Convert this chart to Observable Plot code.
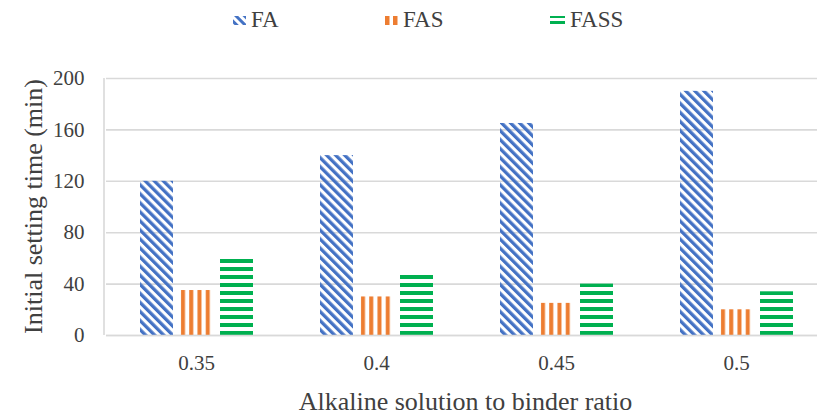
<!DOCTYPE html>
<html>
<head>
<meta charset="utf-8">
<script src="https://cdn.jsdelivr.net/npm/d3@7"></script>
<script src="https://cdn.jsdelivr.net/npm/@observablehq/plot@0.6"></script>
<style>
  body { margin: 0; background: #fff; }
  #wrap { position: relative; width: 817px; height: 417px; overflow: hidden; color: #404040; }
  #wrap, #wrap svg, #wrap text, #wrap span {
    font-family: "Liberation Serif", "Times New Roman", serif !important;
  }
  #legend { position: absolute; top: 0; left: 0; width: 817px; height: 40px; }
  .item { position: absolute; top: 6px; height: 28px; display: flex; align-items: center; font-size: 23px; }
  .item svg { margin-right: 5px; }
  #chart { position: absolute; top: 40px; left: 0; }
</style>
</head>
<body>
<div id="wrap">
  <div id="legend"></div>
  <div id="chart"></div>
</div>
<script>
// Initial setting time (min) for each alkaline solution / binder ratio
const ratios = ["0.35", "0.4", "0.45", "0.5"];
const series = ["FA", "FAS", "FASS"];
const faValues = [120, 140, 165, 190];
const fasValues = [35, 30, 25, 20];
const fassValues = [60, 48, 40, 34];
const yTicks = [0, 40, 80, 120, 160, 200];
const xTitle = "Alkaline solution to binder ratio";
const yTitle = "Initial setting time (min)";

const colors = { FA: "#4472C4", FAS: "#ED7D31", FASS: "#00B050" };
const valuesBySeries = { FA: faValues, FAS: fasValues, FASS: fassValues };
const serif = "Liberation Serif, Times New Roman, serif";

const rows = ratios.flatMap((ratio, i) =>
  series.map(s => ({ ratio, series: s, value: valuesBySeries[s][i] }))
);

const bars = series.map(s =>
  Plot.barY(rows.filter(d => d.series === s), {
    fx: "ratio", x: "series", y: "value", fill: `url(#pat-${s})`
  })
);

const chart = Plot.plot({
  width: 817,
  height: 377,
  marginLeft: 104,
  marginRight: -10,
  marginTop: 38,
  marginBottom: 82,
  style: { fontFamily: serif, color: "#404040", background: "transparent" },
  fx: { domain: ratios, padding: 0, label: null, axis: null },
  x: { domain: series, axis: null, paddingInner: 0.185, paddingOuter: 0.83 },
  y: { domain: [0, 200], axis: null },
  marks: [
    Plot.gridY(yTicks, { stroke: "#d9d9d9", strokeOpacity: 1, strokeWidth: 1.6 }),
    ...bars,
    Plot.ruleY([0], { stroke: "#d9d9d9", strokeWidth: 1.6 }),
    Plot.axisY(yTicks, { tickSize: 0, tickPadding: 22, fontSize: 21, fontFamily: serif, label: null }),
    Plot.axisFx({ anchor: "bottom", tickSize: 0, tickPadding: 20, fontSize: 21, fontFamily: serif, label: null })
  ]
});

// Hatch patterns for the bar fills
const svg = d3.select(chart);
const yScale = chart.scale("y");
const fxScale = chart.scale("fx");
const baseY = yScale.apply(0);
const defs = svg.insert("defs", ":first-child");

const pFA = defs.append("pattern").attr("id", "pat-FA").attr("patternUnits", "userSpaceOnUse")
  .attr("width", 6.4).attr("height", 6.4).attr("patternTransform", "rotate(-45)");
pFA.append("rect").attr("width", 3.3).attr("height", 6.4).attr("fill", colors.FA);

const pFAS = defs.append("pattern").attr("id", "pat-FAS").attr("patternUnits", "objectBoundingBox")
  .attr("width", 0.25).attr("height", 1);
pFAS.append("rect").attr("x", 1).attr("width", 4).attr("height", 400).attr("fill", colors.FAS);

const pFASS = defs.append("pattern").attr("id", "pat-FASS").attr("patternUnits", "userSpaceOnUse")
  .attr("y", baseY).attr("width", 8).attr("height", 8);
pFASS.append("rect").attr("y", 4).attr("width", 8).attr("height", 4).attr("fill", colors.FASS);

// Left edge of the plot area
const x0 = fxScale.range[0];
svg.append("line")
  .attr("x1", x0).attr("x2", x0)
  .attr("y1", yScale.apply(200)).attr("y2", baseY)
  .attr("stroke", "#d9d9d9").attr("stroke-width", 1.6);

// Axis titles
svg.append("text")
  .attr("transform", `translate(42,${(yScale.apply(0) + yScale.apply(200)) / 2}) rotate(-90)`)
  .attr("text-anchor", "middle").attr("font-size", 26).attr("fill", "#404040")
  .attr("font-family", serif)
  .text(yTitle);
svg.append("text")
  .attr("x", (fxScale.range[0] + fxScale.range[1]) / 2).attr("y", 370)
  .attr("text-anchor", "middle").attr("font-size", 26).attr("fill", "#404040")
  .attr("font-family", serif)
  .text(xTitle);

document.getElementById("chart").appendChild(chart);

// Legend
const legendPos = { FA: 233, FAS: 385, FASS: 550 };
const legend = d3.select("#legend");
const lsvgDefs = legend.append("svg").attr("width", 0).attr("height", 0)
  .style("position", "absolute").append("defs");
const lFA = lsvgDefs.append("pattern").attr("id", "leg-FA").attr("patternUnits", "userSpaceOnUse")
  .attr("width", 6).attr("height", 6).attr("patternTransform", "rotate(-45)");
lFA.append("rect").attr("width", 3).attr("height", 6).attr("fill", colors.FA);
const lFAS = lsvgDefs.append("pattern").attr("id", "leg-FAS").attr("patternUnits", "userSpaceOnUse")
  .attr("width", 8).attr("height", 10);
lFAS.append("rect").attr("width", 4.5).attr("height", 10).attr("fill", colors.FAS);
const lFASS = lsvgDefs.append("pattern").attr("id", "leg-FASS").attr("patternUnits", "userSpaceOnUse")
  .attr("width", 15).attr("height", 6);
lFASS.append("rect").attr("y", 0).attr("width", 15).attr("height", 3).attr("fill", colors.FASS);

series.forEach(s => {
  const item = legend.append("div").attr("class", "item").style("left", legendPos[s] + "px");
  const sw = item.append("svg").attr("width", s === "FASS" ? 15 : 13).attr("height", 10);
  sw.append("rect").attr("width", s === "FASS" ? 15 : 13).attr("height", 9).attr("y", 1)
    .attr("fill", `url(#leg-${s})`);
  item.append("span").text(s);
});
</script>
</body>
</html>
